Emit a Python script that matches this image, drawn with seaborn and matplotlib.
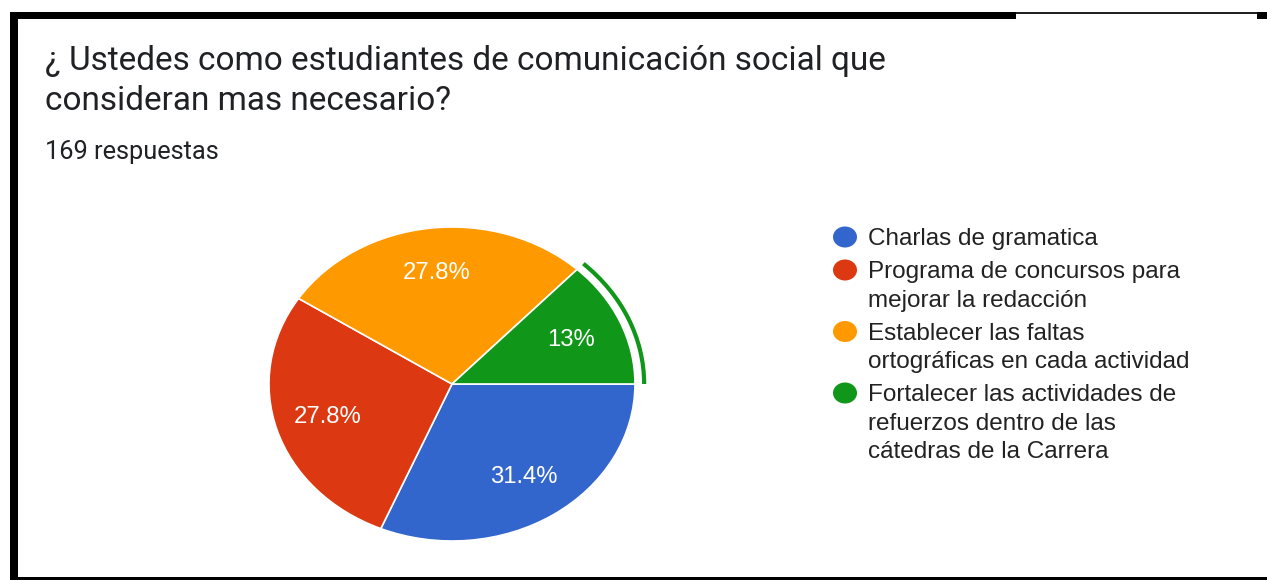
import matplotlib
matplotlib.use("Agg")
import matplotlib.pyplot as plt
from matplotlib.patches import Rectangle, Ellipse, Arc
import seaborn as sns

# ---- data ----
categories = [
    "Charlas de gramatica",
    "Programa de concursos para\nmejorar la redacción",
    "Establecer las faltas\nortográficas en cada actividad",
    "Fortalecer las actividades de\nrefuerzos dentro de las\ncátedras de la Carrera",
]
counts = [53, 47, 47, 22]
colors = ["#3366cc", "#dc3912", "#ff9900", "#109618"]
title_lines = ["¿ Ustedes como estudiantes de comunicación social que",
               "consideran mas necesario?"]
subtitle = "169 respuestas"
highlight = 3  # index of highlighted slice

sns.set_theme(style="white")
plt.rcParams["font.family"] = ["Liberation Sans", "DejaVu Sans"]

W, H = 1267, 580
fig = plt.figure(figsize=(W / 100, H / 100), dpi=100)
fig.patch.set_facecolor("white")

# ---- pie ----
cx, cy, rx, ry = 452, 384, 183, 157
hw, hh = 220, 200
ax = fig.add_axes([(cx - hw) / W, (H - cy - hh) / H, 2 * hw / W, 2 * hh / H])


def fmt(p):
    s = f"{p:.1f}"
    if s.endswith(".0"):
        s = s[:-2]
    return s + "%"


wedges, texts, autotexts = ax.pie(
    counts, colors=sns.color_palette(colors), startangle=0, counterclock=False,
    autopct=fmt, pctdistance=0.71,
    wedgeprops=dict(edgecolor="white", linewidth=1.2),
    textprops=dict(color="white", fontsize=17.2, family=["Liberation Sans", "DejaVu Sans"]),
)
ax.set_aspect("auto")
ax.set_xlim(-hw / rx, hw / rx)
ax.set_ylim(-hh / ry, hh / ry)
ax.axis("off")

w = wedges[highlight]
ax.add_patch(Arc((0, 0), 2.1, 2.1, theta1=w.theta1, theta2=w.theta2,
                 color=colors[highlight], linewidth=3))

# ---- overlay in pixel coords ----
ov = fig.add_axes([0, 0, 1, 1])
ov.set_xlim(0, W)
ov.set_ylim(H, 0)
ov.axis("off")

# borders
black = "#000000"
ov.add_patch(Rectangle((10, 12), 8, H - 12, color=black, lw=0))
ov.add_patch(Rectangle((10, 12), 1006, 7, color=black, lw=0))
ov.add_patch(Rectangle((1016, 12), 242, 1.5, color="#222222", lw=0))
ov.add_patch(Rectangle((1257, 12), 10, 7, color=black, lw=0))
ov.add_patch(Rectangle((10, 577), W - 10, 3, color=black, lw=0))

# titles
tc = "#202124"
ov.text(45, 70, title_lines[0], fontsize=24.0, family="Roboto", color=tc, va="baseline")
ov.text(45, 110, title_lines[1], fontsize=24.0, family="Roboto", color=tc, va="baseline")
ov.text(45, 159, subtitle, fontsize=18.3, family="Roboto", color=tc, va="baseline")

# legend
y = 245
for i, lab in enumerate(categories):
    lines = lab.split("\n")
    ov.add_patch(Ellipse((845, y - 8), 24, 21, color=colors[i], lw=0))
    for ln in lines:
        ov.text(868, y, ln, fontsize=17.5, color="#222222", va="baseline")
        y += 28.5
    y += 4.5

fig.savefig("out.png", dpi=100, facecolor="white")
